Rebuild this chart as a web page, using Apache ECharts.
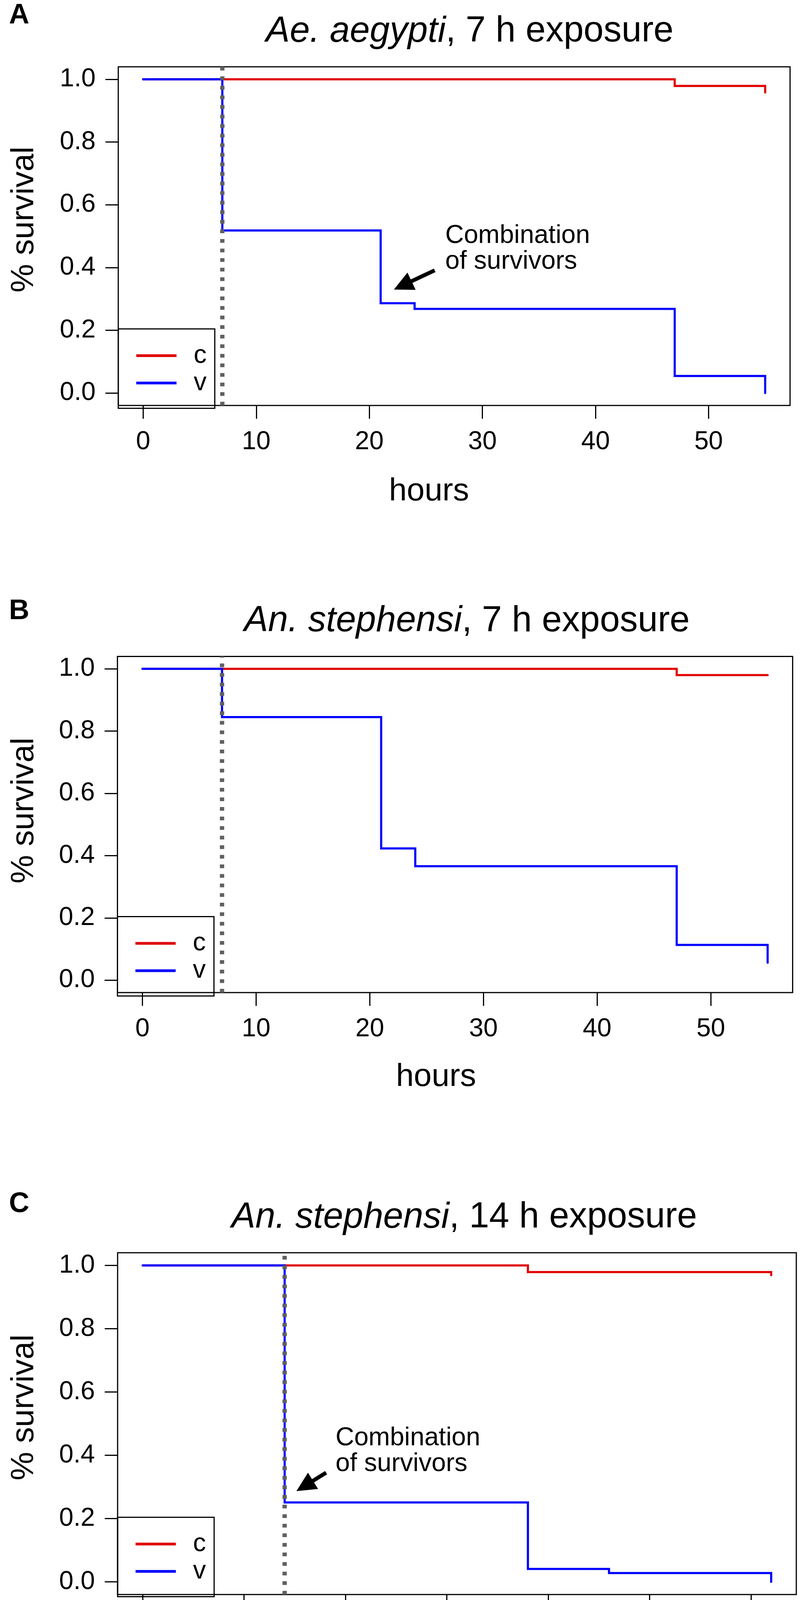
<!DOCTYPE html>
<html>
<head>
<meta charset="utf-8">
<script src="https://cdn.jsdelivr.net/npm/echarts/dist/echarts.min.js"></script>
<style>
  html, body { margin: 0; padding: 0; background: #ffffff; }
  #chart { width: 2050px; height: 4337px; }
</style>
</head>
<body>
<div id="chart"></div>
<script>
// ---------------- data ----------------
const hoursTicksAB = [0, 10, 20, 30, 40, 50];
const hoursTicksC = [0, 10, 20, 30, 40, 50, 60];
const survivalTicks = [0, 0.2, 0.4, 0.6, 0.8, 1.0];

const timesA_c = [0, 47, 55];
const survA_c  = [1, 0.979, 0.958];
const timesA_v = [0, 7, 21, 24, 47, 55];
const survA_v  = [1, 0.518, 0.286, 0.268, 0.054, 0];

const timesB_c = [0, 47, 55];
const survB_c  = [1, 0.98, 0.98];
const timesB_v = [0, 7, 21, 24, 47, 55];
const survB_v  = [1, 0.845, 0.423, 0.366, 0.113, 0.056];

const timesC_c = [0, 38, 62];
const survC_c  = [1, 0.979, 0.969];
const timesC_v = [0, 14, 38, 46, 62];
const survC_v  = [1, 0.251, 0.041, 0.028, 0];

const exposureHours = [7, 7, 14];
const panelLetters = ['A', 'B', 'C'];
const speciesNames = ['Ae. aegypti', 'An. stephensi', 'An. stephensi'];
const exposureLabels = [', 7 h exposure', ', 7 h exposure', ', 14 h exposure'];
const xRanges = [[-2.2, 57.2], [-2.2, 57.2], [-2.48, 64.48]];
const yRange = [-0.04, 1.04];
const legendLabels = ['c', 'v'];
const legendTopValue = 0.204;
const annotationText = 'Combination\nof survivors';
const annotationPos = [[26.71, 0.542], null, [19.02, 0.495]];
const arrowPos = [[[25.78, 0.391], [22.95, 0.343]], null, [[18.09, 0.345], [15.98, 0.303]]];

// ---------------- layout / style ----------------
const FONT = "'Liberation Sans', Arial, Helvetica, sans-serif";
const RED = '#e00000';
const BLUE = '#0000ff';
const grids = [
  { left: 302.7, top: 171,    width: 1719.3, height: 867 },
  { left: 300.6, top: 1680.4, width: 1728,   height: 860.6 },
  { left: 301,   top: 3207,   width: 1737,   height: 875 }
];
const titleCenterX = [1202, 1195, 1188];
const letterCenterY = [40, 1565, 3083];
const yNameCenterY = [562, 2075, 3603];
const xNameCenter = [[1098, 1258], [1116, 2757], [1139, 4297]];

const curves = [
  [timesA_c, survA_c, timesA_v, survA_v],
  [timesB_c, survB_c, timesB_v, survB_v],
  [timesC_c, survC_c, timesC_v, survC_v]
];
const tickSets = [hoursTicksAB, hoursTicksAB, hoursTicksC];

function pairs(ts, vs) { return ts.map((t, i) => [t, vs[i]]); }

const option = {
  animation: false,
  backgroundColor: '#ffffff',
  grid: [], xAxis: [], yAxis: [], series: [], legend: [], graphic: []
};

for (let p = 0; p < 3; p++) {
  const g = grids[p];
  option.grid.push({
    left: g.left, top: g.top, width: g.width, height: g.height,
    show: true, borderColor: '#000', borderWidth: 3, backgroundColor: 'transparent'
  });
  option.xAxis.push({
    gridIndex: p, type: 'value', min: xRanges[p][0], max: xRanges[p][1], position: 'bottom',
    axisLine: { show: false, onZero: false },
    splitLine: { show: false },
    axisTick: { show: true, customValues: tickSets[p], length: 34, lineStyle: { width: 3, color: '#000' } },
    axisLabel: { show: true, customValues: tickSets[p], margin: 61, fontSize: 66, lineHeight: 66,
                 color: '#000', fontFamily: FONT }
  });
  option.yAxis.push({
    gridIndex: p, type: 'value', min: yRange[0], max: yRange[1], position: 'left',
    axisLine: { show: false, onZero: false },
    splitLine: { show: false },
    axisTick: { show: true, customValues: survivalTicks, length: 33, lineStyle: { width: 3, color: '#000' } },
    axisLabel: { show: true, customValues: survivalTicks, margin: 58, fontSize: 66,
                 color: '#000', fontFamily: FONT, formatter: v => Number(v).toFixed(1) }
  });

  const [tc, sc, tv, sv] = curves[p];
  option.series.push({
    name: legendLabels[0], type: 'line', xAxisIndex: p, yAxisIndex: p, step: 'end',
    data: pairs(tc, sc), showSymbol: false, symbol: 'none', color: RED,
    lineStyle: { color: RED, width: 5.5, cap: 'round', join: 'miter' }, z: 2, silent: true
  });
  option.series.push({
    name: legendLabels[1], type: 'line', xAxisIndex: p, yAxisIndex: p, step: 'end',
    data: pairs(tv, sv), showSymbol: false, symbol: 'none', color: BLUE,
    lineStyle: { color: BLUE, width: 5.5, cap: 'round', join: 'miter' }, z: 3, silent: true
  });
  option.series.push({
    name: 'exposure', type: 'line', xAxisIndex: p, yAxisIndex: p,
    data: [[exposureHours[p], yRange[0]], [exposureHours[p], yRange[1]]],
    showSymbol: false, symbol: 'none',
    lineStyle: { color: '#606060', width: 11, type: [9.5, 15], cap: 'butt' }, z: 4, silent: true
  });
  if (annotationPos[p]) {
    option.series.push({
      name: 'annotation', type: 'scatter', xAxisIndex: p, yAxisIndex: p,
      data: [annotationPos[p]], symbolSize: 0, silent: true, z: 5,
      itemStyle: { opacity: 1, color: '#000' },
      label: { show: true, position: [0, 0], align: 'left', verticalAlign: 'top', opacity: 1,
               formatter: annotationText, fontSize: 66, lineHeight: 66, color: '#000', fontFamily: FONT },
      markLine: {
        silent: true, animation: false,
        symbol: ['none', 'triangle'], symbolSize: [49, 50],
        label: { show: false },
        lineStyle: { color: '#000', width: 10, type: 'solid', cap: 'butt', opacity: 1 },
        data: [[{ coord: arrowPos[p][0] }, { coord: arrowPos[p][1] }]]
      }
    });
  }

  const legTop = g.top + (yRange[1] - legendTopValue) / (yRange[1] - yRange[0]) * g.height;
  option.legend.push({
    left: g.left, top: legTop, orient: 'vertical',
    data: [{ name: legendLabels[0], icon: 'rect' }, { name: legendLabels[1], icon: 'rect' }],
    itemWidth: 103, itemHeight: 7, itemGap: 4,
    padding: [35.4, 21, 31.8, 46],
    borderColor: '#000', borderWidth: 3, borderRadius: 0, backgroundColor: 'transparent',
    selectedMode: false,
    itemStyle: { borderWidth: 0 },
    textStyle: { fontSize: 66, lineHeight: 50, padding: [0, 0, 0, 39], color: '#000', fontFamily: FONT }
  });

  // panel letter
  option.graphic.push({
    type: 'text', x: 23, y: letterCenterY[p],
    style: { text: panelLetters[p], fontSize: 72, fontWeight: 'bold', fontFamily: FONT, fill: '#000',
             align: 'left', verticalAlign: 'middle' }
  });
  // title
  option.graphic.push({
    type: 'text', x: titleCenterX[p], y: g.top - 90,
    style: {
      text: '{i|' + speciesNames[p] + '}' + exposureLabels[p],
      fontSize: 92, fontFamily: FONT, fill: '#000', align: 'center', verticalAlign: 'middle',
      rich: { i: { fontStyle: 'italic', fontSize: 92, fontFamily: FONT, fill: '#000' } }
    }
  });
  // y axis name
  option.graphic.push({
    type: 'text', x: 62, y: yNameCenterY[p], rotation: Math.PI / 2,
    style: { text: '% survival', fontSize: 82, fontFamily: FONT, fill: '#000', align: 'center', verticalAlign: 'middle' }
  });
  // x axis name
  option.graphic.push({
    type: 'text', x: xNameCenter[p][0], y: xNameCenter[p][1],
    style: { text: 'hours', fontSize: 82, fontFamily: FONT, fill: '#000', align: 'center', verticalAlign: 'middle' }
  });
}

const chart = echarts.init(document.getElementById('chart'), null, { renderer: 'canvas' });
chart.setOption(option);
</script>
</body>
</html>
